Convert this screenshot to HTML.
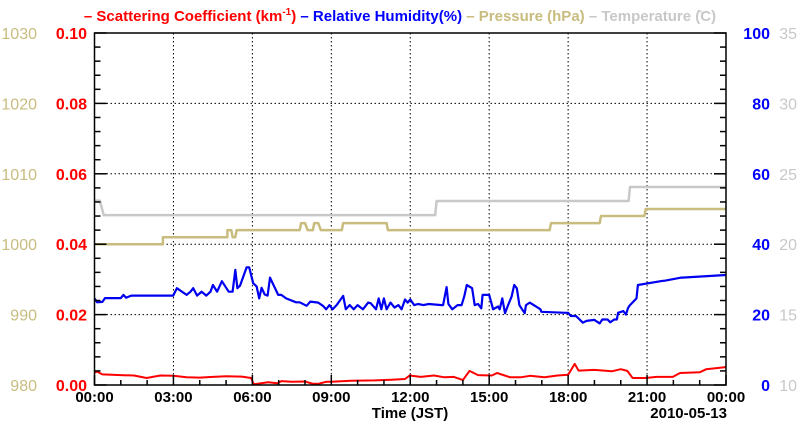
<!DOCTYPE html>
<html><head><meta charset="utf-8"><style>
html,body{margin:0;padding:0;background:#fff;}
svg{display:block;font-family:"Liberation Sans",sans-serif;}
</style></head><body>
<svg id="chart" width="800" height="434" viewBox="0 0 800 434" xmlns="http://www.w3.org/2000/svg">
<g id="title" font-size="15" font-weight="bold">
<text x="400" y="21" text-anchor="middle"><tspan fill="#f00">– Scattering Coefficient (km</tspan><tspan fill="#f00" font-size="10" dy="-6">-1</tspan><tspan fill="#f00" dy="6">)</tspan><tspan fill="#00f"> – Relative Humidity(%)</tspan><tspan fill="#c8bc7e"> – Pressure (hPa)</tspan><tspan fill="#c8c8c8"> – Temperature (̊C)</tspan></text>
</g>
<g id="grid"></g>
<g id="series"></g>
<g id="axes"></g>
<text x="410" y="418" text-anchor="middle" font-size="15" font-weight="bold">Time (JST)</text>
<text x="727" y="418" text-anchor="end" font-size="15" font-weight="bold">2010-05-13</text>
</svg>
<script>
const xTickLabels=["00:00","03:00","06:00","09:00","12:00","15:00","18:00","21:00","00:00"];
const scatTicks=["0.00","0.02","0.04","0.06","0.08","0.10"];
const presTicks=["980","990","1000","1010","1020","1030"];
const rhTicks=["0","20","40","60","80","100"];
const tempTicks=["10","15","20","25","30","35"];
const presT=[0,2.6,2.6,5.05,5.05,5.2,5.25,5.35,5.4,5.5,5.55,7.8,7.85,8.0,8.1,8.3,8.35,8.5,8.6,9.4,9.45,11.1,11.15,17.3,17.35,19.2,19.25,20.9,20.95,24];
const presV=[1000,1000,1001,1001,1002,1002,1001,1001,1002,1002,1002,1002,1003,1003,1002,1002,1003,1003,1002,1002,1003,1003,1002,1002,1003,1003,1004,1004,1005,1005];
const tempT=[0,0.2,0.35,12.95,13.0,20.3,20.35,24];
const tempV=[23.1,23.1,22.07,22.07,23.07,23.07,24.06,24.06];
const rhT=[0,0.1,0.3,0.4,1.0,1.1,1.2,1.4,2.99,3.13,3.5,3.65,3.75,3.9,4.07,4.25,4.41,4.5,4.66,4.84,5.1,5.25,5.35,5.43,5.53,5.78,5.88,6.03,6.16,6.26,6.35,6.47,6.58,6.67,6.98,7.1,7.28,7.66,7.8,8.06,8.2,8.5,8.68,8.8,8.93,9.05,9.2,9.45,9.55,9.7,9.85,10.0,10.2,10.4,10.5,10.7,10.8,10.9,11.0,11.1,11.25,11.4,11.55,11.67,11.8,11.9,12.0,12.15,12.3,12.5,12.7,13.19,13.25,13.38,13.45,13.6,13.8,13.95,14.05,14.15,14.35,14.45,14.58,14.7,14.75,15.0,15.15,15.34,15.4,15.5,15.6,15.72,15.85,15.95,16.05,16.15,16.25,16.35,16.4,16.54,16.95,16.98,17.9,18.0,18.1,18.3,18.56,18.7,19.0,19.2,19.3,19.5,19.6,19.75,19.85,19.9,20.1,20.2,20.27,20.33,20.6,20.65,21.6,21.65,22.3,22.34,24];
const rhV=[24.6,23.5,23.6,24.7,24.7,25.6,24.8,25.4,25.4,27.5,25.6,26.5,27.5,25.4,26.5,25.4,26.5,28.4,26.5,29.5,26.5,26.5,32.7,27.5,28.2,33.4,33.4,28.9,28.0,24.6,27.6,25.7,25.4,30.5,25.6,25.6,24.6,23.5,23.5,22.5,23.7,23.4,22.5,21.5,22.7,21.5,22.7,25.3,21.5,22.7,21.5,22.7,21.5,23.4,23.2,21.5,24.6,21.5,24.6,21.5,23.4,22.0,22.7,21.5,24.3,23.4,24.3,22.7,23.0,22.7,23.0,22.7,22.7,27.8,23.0,21.5,22.7,22.7,25.1,28.4,27.5,22.7,23.0,21.8,25.6,25.6,21.5,22.3,21.5,24.6,20.4,22.7,25.1,28.4,27.5,22.7,21.5,20.4,22.7,23.4,21.5,20.8,20.5,20.5,19.6,19.6,17.7,18.2,18.5,17.5,18.6,18.6,17.8,18.6,18.6,20.5,21.0,20.0,21.8,22.5,24.6,28.4,29.6,29.6,30.5,30.5,31.25,31.25,32.7,32.7];
const scT=[0,0.1,0.3,1.0,1.5,1.98,2.5,3.0,3.5,4.0,4.5,5.0,5.6,5.95,6.05,6.6,6.95,7.1,7.5,8.0,8.27,8.5,8.8,9.0,9.75,10.65,11.3,11.8,12.0,12.05,12.4,12.9,13.3,13.66,14.0,14.25,14.58,15.1,15.3,15.8,16.2,16.55,17.1,17.6,18.0,18.25,18.4,19.0,19.66,20.0,20.25,20.45,20.95,21.35,21.98,22.25,23.0,23.25,23.9,24];
const scV=[0.0035,0.0038,0.003,0.0028,0.0027,0.002,0.0027,0.0026,0.0022,0.0021,0.0023,0.0025,0.0024,0.0020,0.0002,0.0008,0.0005,0.0011,0.0009,0.001,0.0004,0.0003,0.0009,0.0009,0.0012,0.0013,0.0015,0.0017,0.0028,0.0026,0.0023,0.0027,0.0022,0.0023,0.0014,0.004,0.0028,0.0027,0.0034,0.0022,0.0022,0.0026,0.0022,0.0027,0.0029,0.006,0.0041,0.0043,0.0039,0.0045,0.004,0.002,0.002,0.0023,0.0023,0.0034,0.0036,0.0045,0.005,0.0051];

const L=94.5,R=726,T=33,B=385;
const xS=h=>L+(R-L)*h/24;
const yS=v=>B-(B-T)*v/0.1;
const yP=v=>B-(B-T)*(v-980)/50;
const yRH=v=>B-(B-T)*v/100;
const yT=v=>B-(B-T)*(v-10)/25;
const NS="http://www.w3.org/2000/svg";
function mk(tag,attrs,parent){const e=document.createElementNS(NS,tag);for(const k in attrs)e.setAttribute(k,attrs[k]);parent.appendChild(e);return e;}
const grid=document.getElementById('grid'),axes=document.getElementById('axes'),ser=document.getElementById('series');
for(let i=1;i<8;i++){const g=mk('line',{x1:xS(i*3),x2:xS(i*3),y1:T,y2:B,stroke:'#000','stroke-width':1,'stroke-dasharray':'1.5,2.5'},grid);

}
for(let i=1;i<5;i++){const y=yS(i*0.02);const g=mk('line',{x1:L,x2:R,y1:y,y2:y,stroke:'#000','stroke-width':1,'stroke-dasharray':'1.5,2.5'},grid);

}
function line(ts,vs,ys,color,w,name){let d='';for(let i=0;i<ts.length;i++){d+=(i?'L':'M')+xS(ts[i]).toFixed(1)+','+ys(vs[i]).toFixed(1);}
const p=mk('path',{d:d,fill:'none',stroke:color,'stroke-width':w,'stroke-linejoin':'round'},ser);

}
line(tempT,tempV,yT,'#c8c8c8',2.5,'temperature-line');
line(presT,presV,yP,'#c8bc7e',2.5,'pressure-line');
line(rhT,rhV,yRH,'#0000f0',2.2,'humidity-line');
line(scT,scV,yS,'#f00',2,'scattering-line');
const frame=mk('rect',{x:L,y:T,width:R-L,height:B-T,fill:'none',stroke:'#000','stroke-width':1.5},axes);


for(let i=0;i<=25;i++){const y=B-(B-T)*i/25;const maj=i%5==0;const len=maj?12:6;
mk('line',{x1:L,x2:L+len,y1:y,y2:y,stroke:'#000','stroke-width':1.5},axes);
mk('line',{x1:R-len,x2:R,y1:y,y2:y,stroke:'#000','stroke-width':1.5},axes);}
for(let i=0;i<=24;i++){const x=xS(i);const len=i%3==0?10:5;mk('line',{x1:x,x2:x,y1:B-len,y2:B,stroke:'#000','stroke-width':1.5},axes);}
function lab(txt,x,y,anchor,color,bold,name){const t=mk('text',{x:x,y:y,'text-anchor':anchor,fill:color,'font-size':16,'font-weight':bold?'bold':'normal'},axes);t.textContent=txt;

}
for(let i=0;i<6;i++){const y=B-(B-T)*i/5+6;
lab(scatTicks[i],87,y,'end','#f00',true,'scattering-tick');
lab(presTicks[i],37,y,'end','#c8bc7e',false,'pressure-tick');
lab(rhTicks[i],770,y,'end','#00f',true,'humidity-tick');
lab(tempTicks[i],797,y,'end','#c8c8c8',false,'temperature-tick');}
for(let i=0;i<9;i++){const t=mk('text',{x:xS(i*3),y:402,'text-anchor':'middle','font-size':15,'font-weight':'bold'},axes);t.textContent=xTickLabels[i];

}
</script>
</body></html>
